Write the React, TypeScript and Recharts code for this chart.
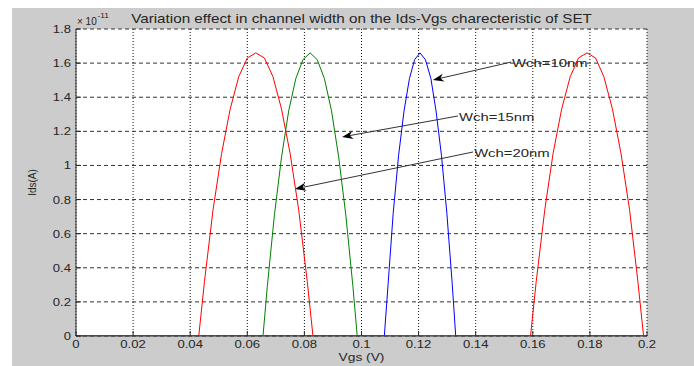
import { LineChart, Line, XAxis, YAxis, CartesianGrid, ReferenceLine } from 'recharts'

// axis ticks
const xTicks = [0, 0.02, 0.04, 0.06, 0.08, 0.1, 0.12, 0.14, 0.16, 0.18, 0.2]
const yTicks = [0, 0.2, 0.4, 0.6, 0.8, 1, 1.2, 1.4, 1.6, 1.8]

// Ids in units of 1e-11 A
// Wch = 20nm (red), two peaks
const redVgs = [
  0, 0.043, 0.045, 0.048, 0.051, 0.054, 0.057, 0.06, 0.063, 0.066, 0.069, 0.072, 0.075, 0.078, 0.081, 0.083,
  0.1592, 0.1612, 0.1642, 0.1671, 0.1701, 0.1731, 0.176, 0.179, 0.182, 0.1849, 0.1879, 0.1909, 0.1939, 0.1968, 0.1988,
  0.2,
]
const redIds = [
  0, 0, 0.32, 0.74, 1.07, 1.33, 1.52, 1.63, 1.66, 1.63, 1.52, 1.33, 1.07, 0.74, 0.32, 0,
  0, 0.32, 0.74, 1.07, 1.33, 1.52, 1.63, 1.66, 1.63, 1.52, 1.33, 1.07, 0.74, 0.32, 0,
  0,
]

// Wch = 15nm (green)
const greenVgs = [0, 0.0655, 0.067, 0.0695, 0.072, 0.0745, 0.077, 0.0795, 0.082, 0.0845, 0.087, 0.0895, 0.092, 0.0945, 0.097, 0.0985, 0.2]
const greenIds = [0, 0, 0.29, 0.71, 1.05, 1.32, 1.51, 1.62, 1.66, 1.62, 1.51, 1.32, 1.05, 0.71, 0.29, 0, 0]

// Wch = 10nm (blue)
const blueVgs = [0, 0.108, 0.1093, 0.1111, 0.113, 0.1149, 0.1168, 0.1186, 0.1205, 0.1224, 0.1243, 0.1261, 0.128, 0.1299, 0.1318, 0.133, 0.2]
const blueIds = [0, 0, 0.3, 0.72, 1.06, 1.32, 1.51, 1.62, 1.66, 1.62, 1.51, 1.32, 1.06, 0.72, 0.3, 0, 0]

// annotations: text start -> arrow tip, in data units
const noteText = ['Wch=10nm', 'Wch=15nm', 'Wch=20nm']
const noteStart = [
  [0.1524, 1.606],
  [0.1338, 1.29],
  [0.1391, 1.079],
]
const noteTip = [
  [0.125, 1.501],
  [0.0932, 1.167],
  [0.0767, 0.862],
]

const toPoints = (xs: number[], ys: number[]) => xs.map((vgs, i) => ({ vgs, ids: ys[i] }))

const FONT = 'Arial, "Liberation Sans", Helvetica, sans-serif'
const INK = '#262626'

// the source image is stretched sideways, so text is scaled in x
function Stretch({ x, y, sx = 1.25, anchor = 'start', size = 10.5, rotate = 0, children }: any) {
  return (
    <g transform={`translate(${x},${y}) rotate(${rotate}) scale(${sx},1)`}>
      <text x={0} y={0} textAnchor={anchor} fontSize={size} fontFamily={FONT} fill={INK}>
        {children}
      </text>
    </g>
  )
}

const BottomTick = (props: any) => {
  const { x, y, payload } = props
  return (
    <g>
      <line x1={x} y1={y} x2={x} y2={y - 5} stroke={INK} />
      <Stretch x={x} y={y + 12} anchor="middle">{String(payload.value)}</Stretch>
    </g>
  )
}

const LeftTick = (props: any) => {
  const { x, y, payload } = props
  return (
    <g>
      <line x1={x} y1={y} x2={x + 5} y2={y} stroke={INK} />
      <Stretch x={x - 5} y={y + 4} anchor="end">{String(payload.value)}</Stretch>
    </g>
  )
}

const TopTick = (props: any) => {
  const { x, y } = props
  return <line x1={x} y1={y} x2={x} y2={y + 5} stroke={INK} />
}

const RightTick = (props: any) => {
  const { x, y } = props
  return <line x1={x} y1={y} x2={x - 5} y2={y} stroke={INK} />
}

const arrowShape = (label: string) => (props: any) => {
  const { x1, y1, x2, y2 } = props
  const a = Math.atan2(y2 - y1, x2 - x1)
  const c = Math.cos(a)
  const s = Math.sin(a)
  const L = 11
  const W = 4
  const bx = x2 - L * c
  const by = y2 - L * s
  const pts = [
    [x2, y2],
    [bx - W * s, by + W * c],
    [x2 - 0.7 * L * c, y2 - 0.7 * L * s],
    [bx + W * s, by - W * c],
  ]
  return (
    <g>
      <line x1={x1} y1={y1} x2={x2 - 5 * c} y2={y2 - 5 * s} stroke="#333" strokeWidth={1} />
      <polygon points={pts.map((p) => p.join(',')).join(' ')} fill="#000" />
      <Stretch x={x1 + 1} y={y1 + 5} sx={1.35} size={11}>{label}</Stretch>
    </g>
  )
}

export default function App() {
  return (
    <div style={{ position: 'absolute', left: 0, top: 0, width: 694, height: 366, background: '#fff' }}>
      <div style={{ position: 'absolute', left: 12, top: 8, width: 682, height: 358, background: '#cccccc' }} />
      <div style={{ position: 'absolute', left: 0, top: 0 }}>
        <LineChart width={694} height={366} margin={{ top: 29, right: 47, bottom: 0, left: 0 }}>
          <CartesianGrid vertical={false} strokeDasharray="4 3" stroke="#333" fill="#fff" />
          <CartesianGrid horizontal={false} strokeDasharray="1 2" stroke="#111" />
          <XAxis
            dataKey="vgs"
            type="number"
            domain={[0, 0.2]}
            ticks={xTicks}
            interval={0}
            height={30}
            tickSize={0}
            tickMargin={0}
            tickLine={false}
            tick={<BottomTick />}
            axisLine={false}
            allowDataOverflow
            label={{
              value: 'Vgs (V)',
              content: (p: any) => (
                <Stretch x={p.viewBox.x + p.viewBox.width / 2} y={p.viewBox.y + 25} anchor="middle" size={11}>
                  Vgs (V)
                </Stretch>
              ),
            }}
          />
          <XAxis
            xAxisId="top"
            orientation="top"
            type="number"
            domain={[0, 0.2]}
            ticks={xTicks}
            interval={0}
            height={0}
            tickSize={0}
            tickMargin={0}
            tickLine={false}
            tick={<TopTick />}
            axisLine={{ stroke: '#333' }}
          />
          <YAxis
            type="number"
            domain={[0, 1.8]}
            ticks={yTicks}
            interval={0}
            width={76}
            tickSize={0}
            tickMargin={0}
            tickLine={false}
            tick={<LeftTick />}
            axisLine={{ stroke: '#333' }}
            allowDataOverflow
            label={{
              value: 'Ids(A)',
              content: (p: any) => (
                <Stretch x={p.viewBox.x + 36} y={p.viewBox.y + p.viewBox.height / 2} anchor="middle" size={10} sx={1} rotate={-90}>
                  Ids(A)
                </Stretch>
              ),
            }}
          />
          <YAxis
            yAxisId="right"
            orientation="right"
            type="number"
            domain={[0, 1.8]}
            ticks={yTicks}
            interval={0}
            width={0}
            tickSize={0}
            tickMargin={0}
            tickLine={false}
            tick={<RightTick />}
            axisLine={{ stroke: '#333' }}
          />
          {/* bottom frame edge, kept under the curves */}
          <ReferenceLine y={0} stroke="#333" strokeWidth={1} />
          {noteText.map((t, i) => (
            <ReferenceLine
              key={t}
              segment={[
                { x: noteStart[i][0], y: noteStart[i][1] },
                { x: noteTip[i][0], y: noteTip[i][1] },
              ]}
              shape={arrowShape(t)}
            />
          ))}
          <Line data={toPoints(blueVgs, blueIds)} dataKey="ids" type="linear" stroke="#0000ff" strokeWidth={1} dot={false} isAnimationActive={false} zIndex={900} />
          <Line data={toPoints(greenVgs, greenIds)} dataKey="ids" type="linear" stroke="#008000" strokeWidth={1} dot={false} isAnimationActive={false} zIndex={901} />
          <Line data={toPoints(redVgs, redIds)} dataKey="ids" type="linear" stroke="#ff0000" strokeWidth={1} dot={false} isAnimationActive={false} zIndex={902} />
        </LineChart>
      </div>
      <svg width={694} height={366} style={{ position: 'absolute', left: 0, top: 0, pointerEvents: 'none' }}>
        <Stretch x={361.5} y={23} anchor="middle" size={12} sx={1.27}>
          Variation effect in channel width on the Ids-Vgs charecteristic of SET
        </Stretch>
        <Stretch x={77} y={25} size={10} sx={1}>× 10</Stretch>
        <Stretch x={97.5} y={18} size={7.5} sx={1.1}>-11</Stretch>
      </svg>
    </div>
  )
}
